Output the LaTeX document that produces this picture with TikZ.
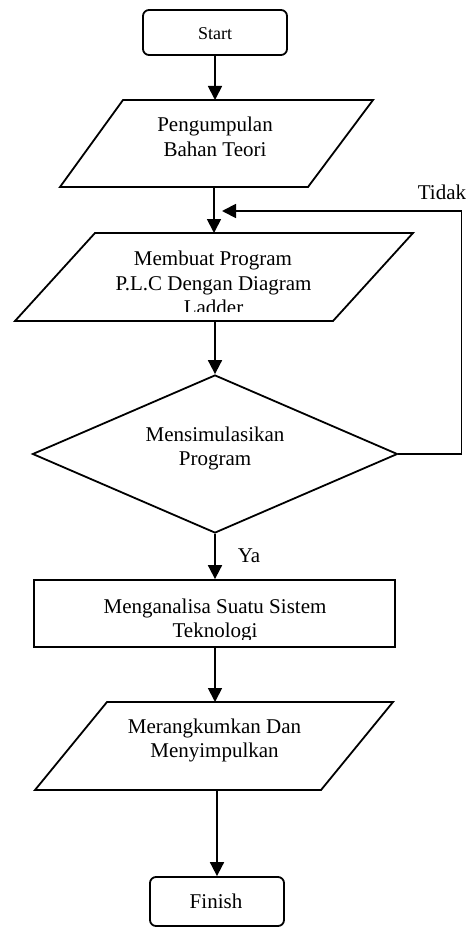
\documentclass[tikz,border=0pt]{standalone}
\usepackage{fontspec}
\setmainfont{Liberation Serif}
\usetikzlibrary{arrows.meta,shapes.geometric,calc}
\begin{document}
\begin{tikzpicture}[x=1pt,y=-1pt,
  line width=1.8pt,
  arr/.style={-{Triangle[length=14pt,width=14pt]}},
  txt/.style={anchor=base,inner sep=0pt,font=\fontsize{21}{24}\selectfont},
  frame/.style={draw, line width=1.8pt, inner sep=0pt},
  ghost/.style={inner sep=0pt, outer sep=0pt}
]
\useasboundingbox (0,0) rectangle (471,928);
% Start
\node[frame, rounded corners=6pt, minimum width=144pt, minimum height=45pt] (start) at (215,32.5) {};
\node[txt, font=\fontsize{18}{20}\selectfont] (tstart) at (215,40) {Start};
% Pengumpulan
\node[ghost, minimum width=313pt, minimum height=87pt] (p1) at (216.5,143.5) {};
\draw ($(p1.north west)+(63,0)$) -- (p1.north east) -- ($(p1.south east)+(-65,0)$) -- (p1.south west) -- cycle;
\node[txt] (t1a) at (215,132) {Pengumpulan};
\node[txt] (t1b) at (215,157) {Bahan Teori};
% Membuat Program
\node[ghost, minimum width=398pt, minimum height=88pt] (p2) at (214,277) {};
\draw ($(p2.north west)+(80,0)$) -- (p2.north east) -- ($(p2.south east)+(-80,0)$) -- (p2.south west) -- cycle;
\node[txt] (t2a) at (213,265) {Membuat Program};
\node[txt] (t2b) at (213.5,290) {P.L.C Dengan Diagram};
\begin{scope}
  \clip (100,295) rectangle (330,311);
  \node[txt] (t2c) at (213.5,314) {Ladder};
\end{scope}
% Diamond
\node[draw, diamond, inner sep=0pt, minimum width=365pt, minimum height=158pt] (dia) at (215,454) {};
\node[txt] (t3a) at (215,441) {Mensimulasikan};
\node[txt] (t3b) at (215,465) {Program};
% Menganalisa
\node[frame, minimum width=361pt, minimum height=67pt] (box) at (214.5,613.5) {};
\node[txt] (t4a) at (215,613) {Menganalisa Suatu Sistem};
\begin{scope}
  \clip (100,615) rectangle (330,639);
  \node[txt] (t4b) at (215,637) {Teknologi};
\end{scope}
% Merangkumkan
\node[ghost, minimum width=358pt, minimum height=88pt] (p3) at (214,746) {};
\draw ($(p3.north west)+(72,0)$) -- (p3.north east) -- ($(p3.south east)+(-72,0)$) -- (p3.south west) -- cycle;
\node[txt] (t5a) at (214.5,733) {Merangkumkan Dan};
\node[txt] (t5b) at (214.5,757) {Menyimpulkan};
% Finish
\node[frame, rounded corners=6pt, minimum width=134pt, minimum height=49pt] (fin) at (217,901.5) {};
\node[txt] (tfin) at (216,908) {Finish};
% Labels
\node[txt] (tidak) at (442,200) {Tidak};
\node[txt, anchor=base west] (ya) at (237,562) {Ya};
% Connectors
\coordinate (loopin) at (222,211);
\draw[arr] (start.south) -- (start.south |- p1.north);
\draw[arr] (p2.north |- p1.south) -- (p2.north);
\draw[arr] (dia.north |- p2.south) -- (dia.north);
\draw[arr] (dia.east) -- ++(63,0) |- (loopin);
\draw[arr] (dia.south) -- (dia.south |- box.north);
\draw[arr] (dia.south |- box.south) -- (dia.south |- p3.north);
\draw[arr] (fin.north |- p3.south) -- (fin.north);
\end{tikzpicture}
\end{document}
